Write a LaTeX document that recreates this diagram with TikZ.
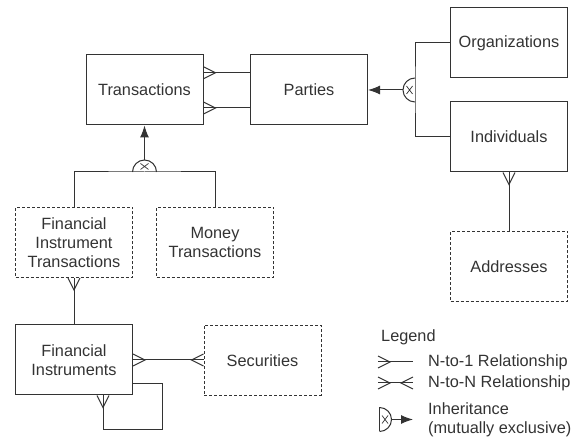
\documentclass[tikz,border=0pt]{standalone}
\usepackage{fontspec}
\setmainfont{Liberation Sans}
\usetikzlibrary{arrows.meta,calc}
\definecolor{ink}{HTML}{333333}
\tikzset{
 txt/.style={text=ink, font=\fontsize{16.3}{19}\selectfont},
 box/.style={txt, draw=ink, line width=1pt, minimum width=117pt, minimum height=70pt, inner sep=0pt, align=center},
 dbox/.style={box, dash pattern=on 3pt off 2pt},
 conn/.style={draw=ink, line width=1pt},
 inharr/.style={conn, -{Latex[length=12pt,width=9pt]}},
 crow/.pic={\draw[conn] (0,6)--(12,0)--(0,-6);},
 inhsym/.pic={\draw[conn] (0,12) arc[start angle=90,end angle=270,radius=12];
   \draw[conn,line width=0.7pt] (-8.5,-4)--(-2.5,4) (-8.5,4)--(-2.5,-4);},
 lbl/.style={txt, inner sep=0pt, anchor=west, align=left}
}
\begin{document}
\begin{tikzpicture}[x=1pt,y=1pt]
\useasboundingbox (0,0) rectangle (579,-438);
% boxes
\node[box]  (T)   at (144.5,-90)   {Transactions};
\node[box]  (P)   at (309,-90)     {Parties};
\node[box]  (O)   at (509,-43)     {Organizations};
\node[box]  (I)   at (509,-137)    {Individuals};
\node[dbox] (FIT) at (74,-242.5)   {Financial\\Instrument\\Transactions};
\node[dbox] (MT)  at (215,-242.5)  {Money\\Transactions};
\node[box]  (FI)  at (74,-360)     {Financial\\Instruments};
\node[dbox] (Sec) at (262.5,-360.5) {Securities};
\node[dbox] (A)   at (509,-266.5)  {Addresses};
% Transactions -- Parties (N-to-1 twice)
\draw[conn] ([yshift=17.3]T.east) -- ([yshift=17.3]P.west);
\draw[conn] ([yshift=-18]T.east) -- ([yshift=-18]P.west);
\pic at ([yshift=17.3]T.east) {crow};
\pic at ([yshift=-18]T.east) {crow};
% Parties inheritance
\coordinate (pinh) at (415,-90);
\draw[conn] (O.west) -| (pinh) |- (I.west);
\pic at (pinh) {inhsym};
\draw[inharr] ([xshift=-12]pinh) -- (P.east);
% Transactions inheritance
\coordinate (tinh) at (144.5,-172);
\draw[conn] (FIT.north) |- (tinh) -| (MT.north);
\pic[rotate=-90] at (tinh) {inhsym};
\draw[inharr] ([yshift=12]tinh) -- (T.south);
% FIT -- FI
\draw[conn] (FIT.south) -- (FI.north);
\pic[rotate=-90] at (FIT.south) {crow};
% FI -- Securities (N-to-N)
\draw[conn] (FI.east) -- (FI.east -| Sec.west);
\pic at (FI.east) {crow};
\pic[rotate=180] at (FI.east -| Sec.west) {crow};
% FI self loop
\coordinate (loopc) at (162,-430);
\draw[conn] ([yshift=-24]FI.east) -| (loopc) -| ([xshift=29]FI.south);
\pic[rotate=-90] at ([xshift=29]FI.south) {crow};
% Individuals -- Addresses
\draw[conn] (I.south) -- (A.north);
\pic[rotate=-90] at (I.south) {crow};
% Legend
\node[lbl] (lg) at (381,-337) {Legend};
\coordinate (l1a) at (378,-362); \coordinate (l1b) at (413,-362);
\draw[conn] (l1a) -- (l1b);
\pic at (l1a) {crow};
\node[lbl] (t1) at (428,-362) {N-to-1 Relationship};
\coordinate (l2a) at (378,-383); \coordinate (l2b) at (413,-383);
\draw[conn] (l2a) -- (l2b);
\pic at (l2a) {crow};
\pic[rotate=180] at (l2b) {crow};
\node[lbl] (t2) at (428,-383) {N-to-N Relationship};
\coordinate (l3) at (379.5,-419.5); \coordinate (l3b) at (413,-419.5);
\draw[conn] ([yshift=12]l3) -- ([yshift=-12]l3);
\pic[rotate=180] at (l3) {inhsym};
\draw[inharr] ([xshift=12]l3) -- (l3b);
\node[lbl] (t3) at (428,-420) {Inheritance\\(mutually exclusive)};
\end{tikzpicture}
\end{document}
